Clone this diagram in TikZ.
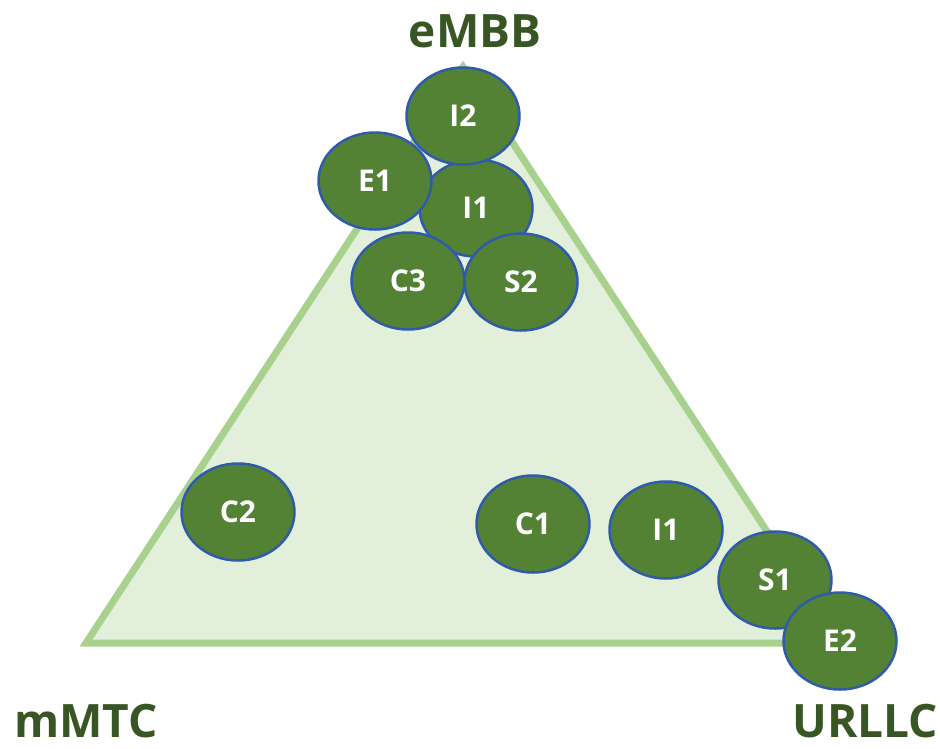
\documentclass[tikz,border=0pt]{standalone}
\usepackage{fontspec}
\setmainfont{Open Sans}
\usetikzlibrary{shapes.geometric}
\definecolor{trifill}{HTML}{E2EFDA}
\definecolor{triline}{HTML}{A9D18E}
\definecolor{ellfill}{HTML}{548235}
\definecolor{ellline}{HTML}{2F5BAA}
\definecolor{labcol}{HTML}{375623}
\tikzset{
  blob/.style={ellipse, draw=ellline, fill=ellfill, line width=2.5pt,
    minimum width=113pt, minimum height=97pt, inner sep=0pt,
    text=white, font=\fontsize{30}{32}\selectfont\bfseries},
  corner/.style={text=labcol, font=\fontsize{46}{50}\selectfont\bfseries, anchor=base, inner sep=0pt}
}
\begin{document}
\begin{tikzpicture}[x=1pt,y=-1pt]
\useasboundingbox (0,0) rectangle (940,748);
\coordinate (top) at (463,67);
\coordinate (bl) at (86,643);
\coordinate (br) at (840,643);
\draw[fill=trifill, draw=triline, line width=7pt, line join=miter] (top) -- (bl) -- (br) -- cycle;
\node[corner] (embb) at (475,47) {eMBB};
\node[corner] (mmtc) at (86,737) {mMTC};
\node[corner] (urllc) at (865,737) {URLLC};
\node[blob] (i1a) at (476,208) {I1};
\node[blob] (e1) at (375,181) {E1};
\node[blob] (i2) at (463,116) {I2};
\node[blob] (c3) at (408,281) {C3};
\node[blob] (s2) at (521,282) {S2};
\node[blob] (c2) at (238,512) {C2};
\node[blob] (c1) at (533,524) {C1};
\node[blob] (i1b) at (666,530) {I1};
\node[blob] (s1) at (775,580) {S1};
\node[blob] (e2) at (840,641) {E2};
\end{tikzpicture}
\end{document}
